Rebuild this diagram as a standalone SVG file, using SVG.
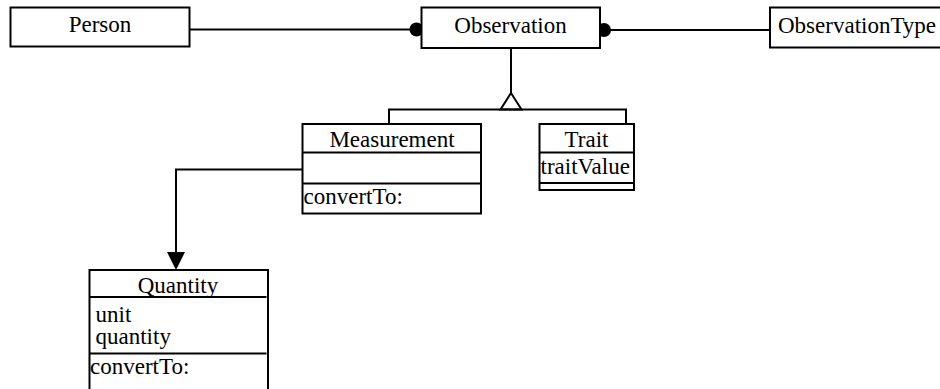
<svg xmlns="http://www.w3.org/2000/svg" width="940" height="389" viewBox="0 0 940 389">
  <style>
    .box { fill: #ffffff; stroke: #000000; stroke-width: 2; }
    .div { stroke: #000000; stroke-width: 2; fill: none; }
    .edge { stroke: #000000; stroke-width: 2; fill: none; }
    text { font-family: "Liberation Serif", "Times New Roman", serif; font-size: 23px; fill: #000000; }
    .c { text-anchor: middle; }
  </style>
  <rect width="940" height="389" fill="#ffffff"/>

  <!-- connectors -->
  <g id="connectors">
    <!-- Person - Observation association -->
    <line class="edge" x1="190" y1="29.5" x2="417" y2="29.5"/>
    <circle cx="416.5" cy="29.5" r="7" fill="#000000"/>
    <!-- Observation - ObservationType association -->
    <line class="edge" x1="604" y1="30" x2="770" y2="30"/>
    <circle cx="604" cy="30" r="7" fill="#000000"/>
    <!-- generalization: Measurement, Trait -> Observation -->
    <line class="edge" x1="511" y1="48" x2="511" y2="93"/>
    <polygon points="511,93 500.5,109.5 521.5,109.5" fill="#ffffff" stroke="#000000" stroke-width="2"/>
    <polyline class="edge" points="389,124 389,109.5 626,109.5 626,124"/>
    <!-- Measurement -> Quantity -->
    <polyline class="edge" points="302.5,169.5 176,169.5 176,253"/>
    <polygon points="167,252 185,252 176,270" fill="#000000"/>
  </g>

  <g id="person">
    <rect class="box" x="10.5" y="7.5" width="179" height="39"/>
    <text class="c" x="100" y="32">Person</text>
  </g>

  <g id="observation">
    <rect class="box" x="421.5" y="7.5" width="178.5" height="40.5"/>
    <text class="c" x="510.5" y="33">Observation</text>
  </g>

  <g id="observationType">
    <rect class="box" x="770" y="7.5" width="180" height="40"/>
    <text x="778" y="33">ObservationType</text>
  </g>

  <g id="measurement">
    <rect class="box" x="302.5" y="124" width="178.5" height="89.5"/>
    <line class="div" x1="302.5" y1="152.5" x2="481" y2="152.5"/>
    <line class="div" x1="302.5" y1="183.5" x2="481" y2="183.5"/>
    <text class="c" x="392" y="146.5">Measurement</text>
    <text x="303.5" y="204">convertTo:</text>
  </g>

  <g id="trait">
    <rect class="box" x="539.5" y="124" width="94.5" height="66"/>
    <line class="div" x1="539.5" y1="152.5" x2="634" y2="152.5"/>
    <line class="div" x1="539.5" y1="183" x2="634" y2="183"/>
    <text class="c" x="586.5" y="146.5">Trait</text>
    <text x="540.5" y="174">traitValue</text>
  </g>

  <g id="quantity">
    <rect class="box" x="89.5" y="270" width="178.5" height="130"/>
    <line class="div" x1="89.5" y1="297" x2="266.5" y2="297"/>
    <line class="div" x1="89.5" y1="353.5" x2="266.5" y2="353.5"/>
    <text class="c" x="178" y="293">Quantity</text>
    <text x="95.5" y="321.5">unit</text>
    <text x="95.5" y="344">quantity</text>
    <text x="90" y="374">convertTo:</text>
  </g>
</svg>
